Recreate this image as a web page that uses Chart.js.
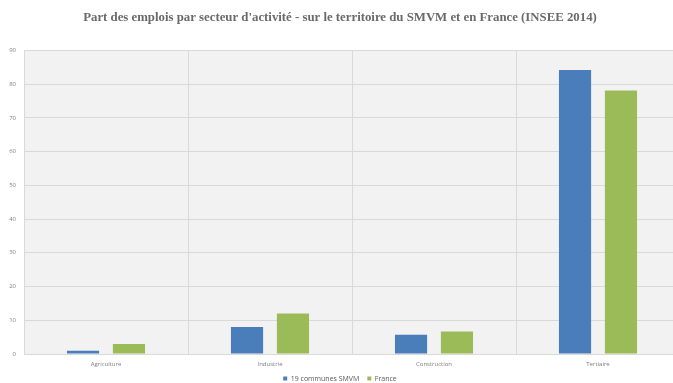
<!DOCTYPE html>
<html>
<head>
<meta charset="utf-8">
<script src="https://cdn.jsdelivr.net/npm/chart.js@4/dist/chart.umd.min.js"></script>
<style>
  html, body { margin: 0; padding: 0; background: #fff; overflow: hidden; }
  #wrap { width: 694px; height: 383px; }
</style>
</head>
<body>
<div id="wrap"><canvas id="chart" width="694" height="383"></canvas></div>
<script>
const categories = ['Agriculture', 'Industrie', 'Construction', 'Tertiaire'];
const smvmValues = [1, 8, 5.7, 84.2];
const franceValues = [3, 12, 6.7, 78.1];
const seriesNames = ['19 communes SMVM', 'France'];
const yTicks = { min: 0, max: 90, step: 10 };

// grey plot-area background, like the Excel chart
const plotBackground = {
    id: 'plotBackground',
    beforeDraw(chart) {
        const { ctx, chartArea } = chart;
        ctx.save();
        ctx.fillStyle = '#f2f2f2';
        ctx.fillRect(chartArea.left, chartArea.top, chartArea.right - chartArea.left, chartArea.bottom - chartArea.top);
        ctx.restore();
    }
};

// legend sits closer to the bottom edge than chart.js allows by default
const tightLegend = {
    id: 'tightLegend',
    beforeLayout(chart) {
        const lg = chart.legend;
        if (lg && !lg._tight) {
            const fit = lg.fit;
            lg.fit = function () {
                fit.call(this);
                this.height -= 9;
            };
            lg._tight = true;
        }
    }
};

const ctx = document.getElementById('chart').getContext('2d');
new Chart(ctx, {
    type: 'bar',
    data: {
        labels: categories,
        datasets: [{
            label: seriesNames[0],
            data: smvmValues,
            backgroundColor: '#4a7ebb',
            borderWidth: 0
        }, {
            label: seriesNames[1],
            data: franceValues,
            backgroundColor: '#9bbb59',
            borderWidth: 0
        }]
    },
    options: {
        responsive: false,
        animation: false,
        devicePixelRatio: 1,
        layout: { padding: { left: 0, right: 14, top: 0, bottom: 0 } },
        datasets: {
            bar: { categoryPercentage: 0.56, barPercentage: 0.7 }
        },
        plugins: {
            title: {
                display: true,
                text: "Part des emplois par secteur d'activité - sur le territoire du SMVM et en France (INSEE 2014)",
                color: '#6a6a6a',
                font: { family: 'Liberation Serif', size: 12.8, weight: 'bold' },
                padding: { top: 10, bottom: 25 }
            },
            legend: {
                position: 'bottom',
                labels: {
                    color: '#595959',
                    font: { family: 'Open Sans', size: 7 },
                    boxWidth: 4,
                    boxHeight: 4,
                    padding: 8
                }
            },
            tooltip: { enabled: false }
        },
        scales: {
            x: {
                grid: { color: '#d9d9d9', offset: true, drawTicks: false },
                border: { color: '#d9d9d9' },
                ticks: {
                    color: '#7f7f7f',
                    font: { family: 'Open Sans', size: 6 },
                    padding: 7
                },
                afterFit(scale) { scale.height = 13; }
            },
            y: {
                min: yTicks.min,
                max: yTicks.max,
                grid: { color: '#d9d9d9', drawTicks: false },
                border: { color: '#d9d9d9' },
                ticks: {
                    stepSize: yTicks.step,
                    color: '#7f7f7f',
                    font: { family: 'Open Sans', size: 6 },
                    padding: 8
                },
                afterFit(scale) { scale.width = 24; }
            }
        }
    },
    plugins: [plotBackground, tightLegend]
});
</script>
</body>
</html>
